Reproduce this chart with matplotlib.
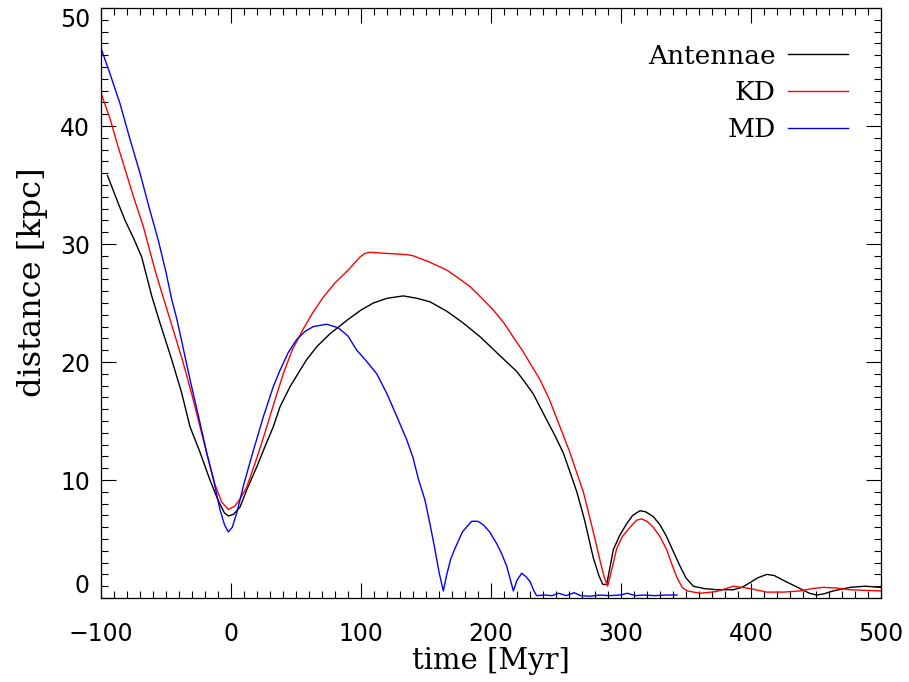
import numpy as np
import matplotlib
matplotlib.use("Agg")
import matplotlib.pyplot as plt
from matplotlib.ticker import MultipleLocator

# distance between the two galaxy centres
t_ant = [-95, -88, -81.5, -75, -68.7, -61, -54.6, -45.6, -38, -31.5, -24, -16.2, -10, -5, -2,
         2, 6.9, 13, 19.8, 26, 32.5, 37.7, 45.4, 53.1, 58.2, 66, 76.2, 90, 100, 109.5, 120,
         132.6, 143, 153.1, 166, 178.7, 192, 204.4, 212, 219.8, 226, 232.5, 242.8, 249, 255.6,
         261, 266, 272, 278.7, 283, 286, 289, 291, 294.1, 299, 304.4, 309, 314.6, 319, 324.8,
         330, 335.1, 340, 345.4, 350, 355.6, 364, 373.6, 386.4, 393, 399.2, 405, 412.1, 418,
         424.9, 437.7, 445, 450.5, 456, 463.3, 476.2, 488, 499.5]
d_ant = [35.8, 33.8, 32.0, 30.5, 28.9, 25.6, 23.3, 20.2, 17.4, 14.5, 12.4, 10.0, 8.3, 7.2, 6.95,
         7.1, 7.7, 9.4, 11.1, 12.8, 14.5, 16.2, 17.9, 19.3, 20.2, 21.3, 22.4, 23.6, 24.4, 25.0, 25.4,
         25.6, 25.4, 25.1, 24.3, 23.3, 22.1, 20.8, 20.0, 19.2, 18.3, 17.3, 15.1, 13.8, 12.3,
         10.6, 9.0, 6.6, 3.4, 1.9, 1.15, 1.15, 2.3, 4.1, 5.3, 6.3, 7.0, 7.4, 7.3, 6.9,
         6.2, 5.2, 4.0, 2.7, 1.7, 1.0, 0.8, 0.7, 0.7, 0.9, 1.3, 1.7, 2.0, 1.9,
         1.5, 0.8, 0.4, 0.25, 0.35, 0.6, 0.9, 1.0, 0.9]

t_kd = [-100, -93, -87, -82.8, -75, -67.5, -58, -50.8, -43, -36.7, -30, -23.8, -18, -12.3, -7, -2,
        3, 7, 12.1, 20, 27.5, 33, 40.2, 47, 55.6, 63, 71, 80, 90.2, 96, 99.2, 103, 106.9, 120,
        135.2, 140.2, 152, 165.9, 175, 183.8, 193, 201.8, 210, 217.2, 224, 230, 237.7, 245,
        253.1, 260.8, 266, 271, 276, 280, 283.8, 287, 289.7, 292, 296.7, 301, 307, 312, 315.9,
        320, 324.8, 330, 335.1, 339, 342.8, 347, 351, 360.8, 373.6, 386.4, 399.2, 412.1, 425,
        437.7, 447, 455.6, 465, 476.2, 488, 500]
d_kd = [42.8, 40.6, 38.3, 36.8, 34.0, 31.5, 27.6, 25.0, 22.2, 19.9, 17.2, 14.5, 12.0, 9.6, 8.1, 7.5,
        7.8, 8.4, 9.4, 11.9, 14.5, 16.5, 19.0, 21.0, 22.8, 24.2, 25.5, 26.7, 27.8, 28.5, 28.9, 29.2, 29.3, 29.2,
        29.1, 29.0, 28.5, 27.8, 27.1, 26.4, 25.4, 24.4, 23.3, 22.1, 21.0, 19.9, 18.5, 16.8,
        14.5, 12.3, 10.6, 9.0, 6.8, 5.0, 3.2, 1.8, 1.0, 2.0, 4.2, 5.2, 6.0, 6.6, 6.7,
        6.5, 6.0, 5.2, 4.1, 2.9, 1.8, 0.9, 0.6, 0.4, 0.55, 1.0, 0.8, 0.5, 0.5,
        0.6, 0.8, 0.9, 0.85, 0.7, 0.65, 0.6]

t_md = [-100, -93, -85.4, -78, -70, -63, -55.9, -50, -45.6, -41.8, -38, -31.5, -25, -18.7, -13, -8.5,
        -5, -2.1, 1, 4.4, 10, 17.2, 25, 32.5, 37.7, 44, 50.5, 57, 63.3, 73.6, 82.5, 90, 96.7,
        104, 112.1, 120, 127.5, 135.2, 140, 144.1, 149.2, 153, 156.9, 160, 163.3, 166, 169,
        172.3, 178, 185.1, 190, 194.1, 199, 204.4, 208, 212.1, 215, 217.2, 220, 223.6, 227,
        230, 233, 235.1, 241, 247, 252, 258, 264, 269, 276, 284, 291, 299, 305, 311, 318,
        326, 335, 343]
d_md = [46.6, 44.4, 41.9, 39.0, 36.0, 33.1, 30.3, 27.6, 25.3, 23.7, 21.8, 18.5, 15.4, 12.3, 9.8, 7.5,
        6.2, 5.6, 6.0, 7.2, 9.7, 12.5, 15.4, 17.9, 19.3, 20.8, 21.9, 22.6, 23.0, 23.2, 22.9, 22.2, 21.0,
        20.1, 19.0, 17.3, 15.4, 13.4, 11.9, 10.1, 8.3, 6.3, 4.1, 2.2, 0.6, 2.0, 3.3,
        4.2, 5.6, 6.5, 6.5, 6.2, 5.6, 4.6, 3.8, 2.7, 1.5, 0.6, 1.5, 2.1, 1.8,
        1.4, 0.6, 0.2, 0.25, 0.2, 0.4, 0.2, 0.45, 0.2, 0.15, 0.25, 0.2, 0.25, 0.4, 0.2, 0.25,
        0.2, 0.25, 0.25]

series = [("Antennae", t_ant, d_ant, "black"),
          ("KD", t_kd, d_kd, "red"),
          ("MD", t_md, d_md, "blue")]

lab_font = "DejaVu Serif"

fig = plt.figure(figsize=(9.09, 6.82), dpi=100)
ax = fig.add_axes([101 / 909, 1 - 598 / 682, 780 / 909, 590 / 682])

for name, t, d, c in series:
    ax.plot(t, d, color=c, lw=1.0, label=name)

ax.set_xlim(-100, 500)
ax.set_ylim(0, 50)
ax.set_xticks(range(-100, 501, 100))
ax.set_yticks(range(0, 51, 10))
ax.xaxis.set_minor_locator(MultipleLocator(10))
ax.yaxis.set_minor_locator(MultipleLocator(1))
ax.tick_params(which="both", direction="in", top=True, right=True, width=0.8, color="black")
ax.tick_params(which="major", length=11)
ax.tick_params(which="minor", length=5)
ax.tick_params(axis="x", which="major", pad=17, labelsize=17)
ax.tick_params(axis="y", which="major", pad=8, labelsize=17)
for sp in ax.spines.values():
    sp.set_linewidth(0.9)

ax.set_xlabel("time [Myr]", fontfamily=lab_font, fontsize=21, labelpad=1)
ax.set_ylabel("distance [kpc]", fontfamily=lab_font, fontsize=23)
ax.yaxis.set_label_coords(-0.068, 0.535)

leg = ax.legend(loc="upper right", frameon=False, markerfirst=False,
                prop={"family": lab_font, "size": 19},
                handlelength=2.3, handletextpad=0.45, labelspacing=0.45,
                borderaxespad=0, bbox_to_anchor=(1 - 22 / 780, 1 - 25 / 590))

# IDL style: the end labels of the y axis sit inside the box
fig.canvas.draw()
for tk in ax.yaxis.get_major_ticks():
    if tk.get_loc() == 0:
        tk.label1.set_va("bottom")
    elif tk.get_loc() == 50:
        tk.label1.set_va("top")

fig.savefig("out.png", dpi=100)
